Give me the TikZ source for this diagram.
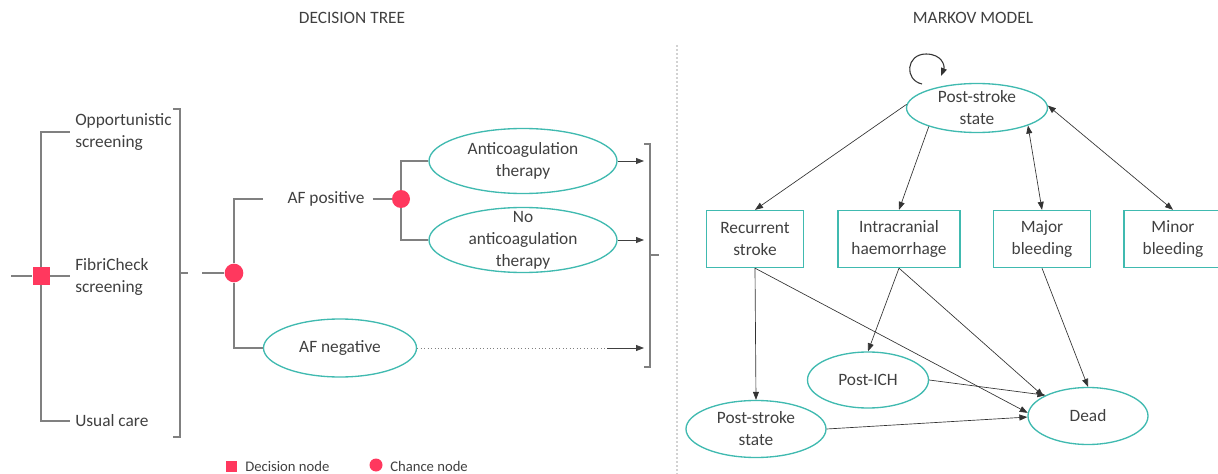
\documentclass[tikz,border=0pt]{standalone}
\usepackage{fontspec}
\setmainfont{Carlito}
\usetikzlibrary{shapes.geometric,arrows.meta}
\definecolor{chancered}{RGB}{255,56,94}
\definecolor{stateteal}{RGB}{64,186,176}
\definecolor{linegray}{RGB}{128,128,128}
\definecolor{textgray}{RGB}{64,64,64}

\tikzset{
  lbl/.style={font=\fontsize{13}{16.5}\selectfont, text=textgray, align=center, inner sep=0pt},
  branch/.style={lbl, anchor=west, align=left},
  legendtxt/.style={font=\fontsize{11}{13}\selectfont, text=textgray, anchor=west, inner sep=0pt},
  decision/.style={rectangle, fill=chancered, minimum size=12.75pt, inner sep=0pt},
  chance/.style={circle, fill=chancered, minimum size=14pt, inner sep=0pt},
  outcome/.style={ellipse, draw=stateteal, line width=1pt, inner sep=0pt},
  healthbox/.style={rectangle, draw=stateteal, line width=1pt, lbl, minimum height=42.75pt},
  treeline/.style={draw=linegray, line width=1pt},
  treearrow/.style={draw=black!75, line width=0.6pt, -{Triangle[length=6pt,width=4.5pt]}},
  markov/.style={draw=black!80, line width=0.5pt, -{Triangle[length=6pt,width=4.5pt]}},
  markovboth/.style={markov, {Triangle[length=6pt,width=4.5pt]}-{Triangle[length=6pt,width=4.5pt]}},
}

\begin{document}
\begin{tikzpicture}[x=0.75pt,y=-0.75pt]
\useasboundingbox (0,0) rectangle (1218,474);

% titles
\node[lbl] (dttitle) at (352,18) {DECISION TREE};
\node[lbl] (mmtitle) at (973,18) {MARKOV MODEL};

% separator
\draw[gray!35, line width=1.2pt, dash pattern=on 1.5pt off 1.5pt] (677,45) -- (677,474);

% decision tree
\coordinate (root) at (11,276);
\node[decision] (dec) at (41,276) {};
\node[branch] (opp) at (75,132) {Opportunistic\\screening};
\node[branch] (fib) at (75,277) {FibriCheck\\screening};
\node[branch] (usual) at (75,421) {Usual care};

\draw[treeline] (root) -- (dec.west);
\draw[treeline] (dec.east) -- ([xshift=-4pt]fib.west |- dec.east);
\draw[treeline] (dec.north) |- ([xshift=-4pt]opp.west);
\draw[treeline] (dec.south) |- ([xshift=-4pt]usual.west);

\draw[treeline] (173,109) -- (180,109) -- (180,437) -- (173,437);
\draw[treeline] (180,273) -- (188,273);

\coordinate (afstart) at (202,273);
\node[chance] (c1) at (234,273) {};
\node[lbl] (afp) at (326,199) {AF positive};
\node[chance, minimum size=13.5pt] (c2) at (401,199) {};
\node[outcome, minimum width=141pt, minimum height=48.75pt,
  label={[lbl]center:Anticoagulation\\therapy}] (ac) at (523,161) {};
\node[outcome, minimum width=141pt, minimum height=48.75pt,
  label={[lbl]center:No\\anticoagulation\\therapy}] (nac) at (523,240) {};
\node[outcome, minimum width=114.75pt, minimum height=43.5pt,
  label={[lbl]center:AF negative}] (afn) at (340,348) {};

\draw[treeline] (afstart) -- (c1.west);
\draw[treeline] (c1.north) |- ([xshift=-18pt]afp.west);
\draw[treeline] (c1.south) |- (afn.west);
\draw[treeline] ([xshift=6pt]afp.east) -- (c2.west);
\draw[treeline] (c2.north) |- (ac.west);
\draw[treeline] (c2.south) |- (nac.west);

\coordinate (rb) at (644,255);
\coordinate (dotend) at (607,348);
\draw[treearrow] (ac.east) -- (ac.east -| rb);
\draw[treearrow] (nac.east) -- (nac.east -| rb);
\draw[linegray, line width=0.6pt, dotted] (afn.east) -- (afn.east -| dotend);
\draw[treearrow] (afn.east -| dotend) -- (afn.east -| rb);

\draw[treeline] (644,144) -- (650,144) -- (650,367) -- (644,367);
\draw[treeline] (650,255) -- (659,255);

% legend
\node[decision, minimum size=8.25pt] (legdec) at (231,466) {};
\node[legendtxt] (legdectxt) at (245,466) {Decision node};
\node[chance, minimum size=9.75pt] (legch) at (376,465) {};
\node[legendtxt] (legchtxt) at (390,466) {Chance node};

% markov model
\node[outcome, minimum width=105.75pt, minimum height=36.75pt,
  label={[lbl]center:Post-stroke\\state}] (pst) at (977,108) {};
\node[healthbox, minimum width=72.75pt] (rec) at (755,239) {Recurrent\\stroke};
\node[healthbox, minimum width=91.5pt] (ich) at (899,239) {Intracranial\\haemorrhage};
\node[healthbox, minimum width=72.75pt] (maj) at (1042,239) {Major\\bleeding};
\node[healthbox, minimum width=73.5pt] (mnr) at (1173,239) {Minor\\bleeding};
\node[outcome, minimum width=90.75pt, minimum height=42pt,
  label={[lbl]center:Post-ICH}] (pich) at (868,380) {};
\node[outcome, minimum width=105pt, minimum height=42.75pt,
  label={[lbl]center:Post-stroke\\state}] (psb) at (756,429) {};
\node[outcome, minimum width=90pt, minimum height=42.75pt,
  label={[lbl]center:Dead}] (dead) at (1088,416) {};

\coordinate (lpa) at (922,84);
\coordinate (lpb) at (941,76);
\draw[markov, line width=0.8pt] (lpa) .. controls (904,80) and (906,54) .. (926,54)
  .. controls (942,54) and (945,66) .. (lpb);

\draw[markov] (pst.177) -- (rec.north);
\draw[markov] (pst.201) -- (ich.north);
\draw[markovboth] (pst.341) -- (maj.north);
\draw[markovboth] (pst.2) -- (mnr.north);

\draw[markov] (rec.south) -- (psb.north);
\draw[markov] (rec.south) -- (dead.177);
\draw[markov] (ich.south) -- (pich.north);
\draw[markov] (ich.south) -- (dead.156);
\draw[markov] (maj.south) -- (dead.north);
\draw[markov] (pich.east) -- (dead.154);
\draw[markov] (psb.east) -- (dead.181);
\end{tikzpicture}
\end{document}
